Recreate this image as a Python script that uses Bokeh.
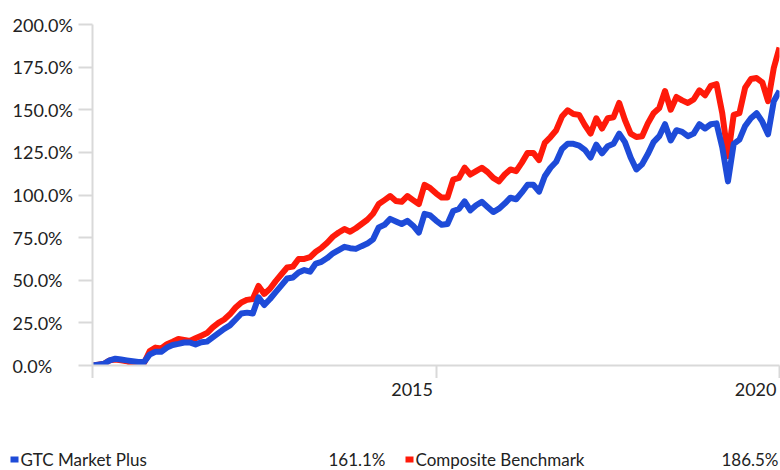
from bokeh.plotting import figure
from bokeh.models import Range1d, FixedTicker
from bokeh.layouts import column, row
from bokeh.embed import file_html
from bokeh.resources import INLINE
from bokeh.core.properties import value

# ---- data (cumulative return, %, monthly from Dec 2010 to Dec 2020) ----
months = list(range(121))
gtc = [0, 0.5, 1.0, 3, 4, 3.5, 3, 2.5, 2, 2, 6.5, 8, 8, 10.5, 12, 12.7, 13.5, 13.5, 12.3, 13.6,
       14, 16.5, 19, 21.5, 23.5, 27, 30.5, 31, 30.5, 40, 35.5, 39, 43, 47, 51, 51.6, 54.5, 56, 55, 59.8,
       60.8, 63, 65.8, 67.7, 69.6, 68.8, 68.4, 70, 71.5, 74, 81, 82.5, 86, 84.5, 83, 84.8, 82, 78, 89, 88,
       85, 82.5, 83, 90.6, 91.8, 96.3, 91, 94, 96, 93, 90, 92, 95, 98.4, 97.5, 101.5, 106, 106, 102, 111,
       116, 119.5, 127, 130, 130, 129, 126.5, 122, 129.5, 124.5, 128.6, 130, 136, 131, 122, 115, 118, 124, 131, 134.5,
       141.5, 132, 138, 137, 134.5, 136, 141.5, 139, 141.5, 142, 128, 108, 130, 132.5, 140.5, 145, 148, 143, 135.6, 155,
       161.1]
bench = [0, 0.5, 1, 3, 3.5, 3, 2.5, 1, 1, 1.5, 8.5, 10.5, 10, 12.5, 14, 15.6, 15, 14.4, 16, 17.5,
         19, 22.4, 25, 27, 30, 34, 37, 38.5, 39, 46.7, 42, 45, 49.5, 53.5, 57.5, 58, 62.5, 62.5, 63.5, 66.7,
         69, 72, 75.6, 78, 80, 78.5, 80.5, 83, 85.5, 89, 94.7, 97, 99.4, 96.5, 96, 99.4, 97, 94.7, 106, 104,
         101, 98.5, 98.5, 109, 110, 116, 112, 114, 116, 113.5, 110, 108, 112, 115, 114, 119, 124.7, 124.7, 120.5, 130.6,
         134, 138, 146, 149.7, 147.5, 147, 141, 136, 145, 139, 145, 145.6, 154, 144, 136, 134, 134.5, 142, 148, 151,
         161, 150, 157.5, 155.5, 154, 156, 161.4, 158.5, 164, 165, 148, 122.8, 147, 148, 163, 168, 168.6, 166, 155, 174.5,
         186.5]
series_names = ["GTC Market Plus", "Composite Benchmark"]
series_final = ["161.1%", "186.5%"]
series_colors = ["#1e4bd8", "#ff1a0a"]
y_ticks = [0, 25, 50, 75, 100, 125, 150, 175, 200]
y_tick_labels = ["0.0%", "25.0%", "50.0%", "75.0%", "100.0%", "125.0%", "150.0%", "175.0%", "200.0%"]
x_tick_pos = [0, 60, 120]
x_label_pos = [60, 120]
x_labels = ["2015", "2020"]

FONT = "Lato"
TXT = "#222222"
AXIS = "#d9d9d9"

# layout constants (pixels)
W, H = 780, 470
FL, FR, FT, FB = 92, 779, 24, 365      # frame edges on the page
TOP_H = 378                             # height of chart row
YL_W = 78                               # width of y-label strip
Y0, Y1 = 0, 200
X0, X1 = 0, 120
ppy = (FB - FT) / (Y1 - Y0)
ppx = (FR - FL) / (X1 - X0)


def bare(fig):
    fig.axis.visible = False
    fig.xgrid.visible = False
    fig.ygrid.visible = False
    fig.outline_line_color = None
    try:
        fig.frame_align = False
    except Exception:
        pass
    return fig


common = dict(output_backend="svg", toolbar_location=None)
nob = dict(min_border_left=0, min_border_right=0, min_border_top=0, min_border_bottom=0)

# ---- main chart ----
p = figure(width=W - YL_W, height=TOP_H, x_range=Range1d(X0, X1), y_range=Range1d(Y0, Y1),
           min_border_left=FL - YL_W, min_border_right=W - FR, min_border_top=FT,
           min_border_bottom=TOP_H - FB, **common)
p.xgrid.visible = False
p.ygrid.visible = False
p.outline_line_color = None
try:
    p.frame_align = False
except Exception:
    pass
for ax, ticks, out in ((p.xaxis[0], x_tick_pos, TOP_H - FB), (p.yaxis[0], y_ticks, FL - YL_W)):
    ax.ticker = FixedTicker(ticks=ticks)
    ax.axis_line_color = AXIS
    ax.axis_line_width = 2
    ax.major_tick_line_color = AXIS
    ax.major_tick_line_width = 2
    ax.major_tick_out = out
    ax.major_tick_in = 0
    ax.minor_tick_line_color = None
    ax.major_label_text_font_size = "0px"
    ax.major_label_text_color = None
    ax.major_label_standoff = 0

p.line(months, bench, line_color=series_colors[1], line_width=6, line_join="round")
p.line(months, gtc, line_color=series_colors[0], line_width=6, line_join="round")

# ---- y tick labels strip (left aligned) ----
yl = bare(figure(width=YL_W, height=TOP_H, x_range=Range1d(0, YL_W),
                 y_range=Range1d(Y0 - (TOP_H - FB) / ppy, Y1 + FT / ppy), **nob, **common))
yl.text(x=[12] * len(y_ticks), y=y_ticks, text=y_tick_labels, text_font=value(FONT),
        text_font_size="18px", text_color=TXT, text_align="left", text_baseline="middle")

# ---- bottom strip: x tick labels (right aligned to tick) + legend ----
BH = H - TOP_H
BTOP = TOP_H                            # page y of the strip's top
bt = bare(figure(width=W, height=BH, x_range=Range1d(X0 - FL / ppx, X1 + (W - FR) / ppx),
                 y_range=Range1d(0, BH), **nob, **common))
bt.text(x=x_label_pos, y=[BH - (389 - BTOP)] * len(x_labels), text=x_labels, x_offset=-3,
        text_font=value(FONT), text_font_size="18px", text_color=TXT,
        text_align="right", text_baseline="middle")

# legend (positions in page pixels converted to this strip's x scale)
col_start = [10, 405]
col_end = [385, 778]
LEG_MID = 459
def px(v):
    return X0 + (v - FL) / ppx
for i in range(2):
    bt.rect(x=px(col_start[i] + 4), y=BH - (LEG_MID - BTOP), width=8, height=6,
            width_units="screen", height_units="screen",
            fill_color=series_colors[i], line_color=None)
    bt.text(x=[px(col_start[i] + 10)], y=[BH - (LEG_MID - BTOP)], text=[series_names[i]],
            text_font=value(FONT), text_font_size="17px", text_color=TXT,
            text_baseline="middle", text_align="left")
    bt.text(x=[px(col_end[i])], y=[BH - (LEG_MID - BTOP)], text=[series_final[i]],
            text_font=value(FONT), text_font_size="17px", text_color=TXT,
            text_baseline="middle", text_align="right")

layout = column(row(yl, p, spacing=0), bt, spacing=0)
open("out.html", "w").write(file_html(layout, INLINE))
